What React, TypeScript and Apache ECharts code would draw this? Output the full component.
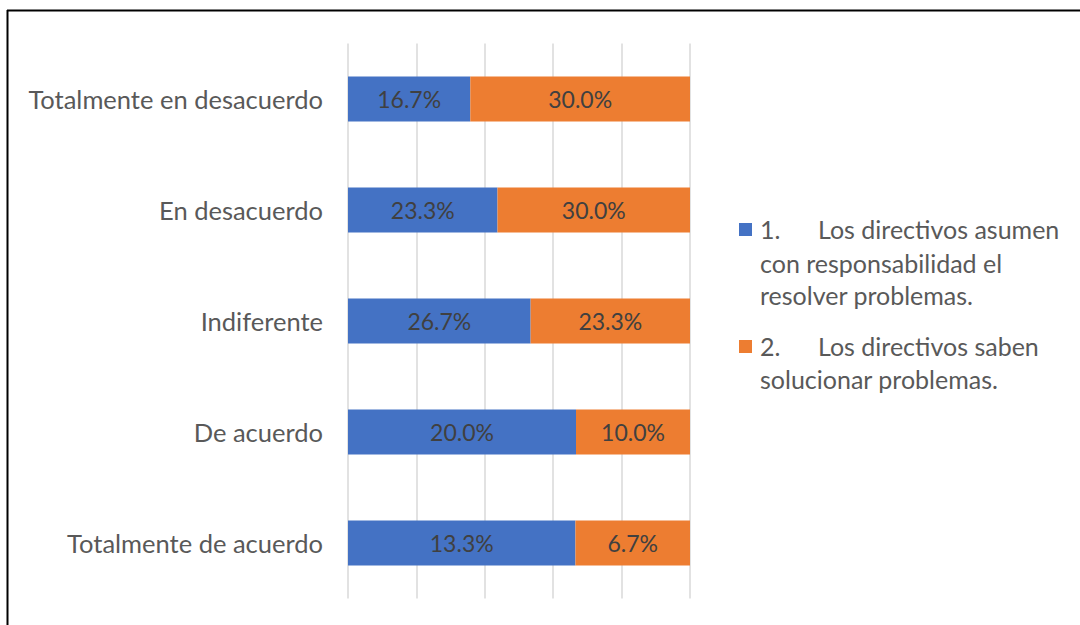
import React, { useEffect, useRef } from "react";
import * as echarts from "echarts";

const categories = [
  "Totalmente en desacuerdo",
  "En desacuerdo",
  "Indiferente",
  "De acuerdo",
  "Totalmente de acuerdo",
];
const series1Name = "1.\tLos directivos asumen con responsabilidad el resolver problemas.";
const series2Name = "2.\tLos directivos saben solucionar problemas.";
const series1Values = [16.7, 23.3, 26.7, 20.0, 13.3];
const series2Values = [30.0, 30.0, 23.3, 10.0, 6.7];

const BLUE = "#4472C4";
const ORANGE = "#ED7D31";
const FONT = "Lato";

export default function App() {
  const ref = useRef<HTMLDivElement>(null);
  useEffect(() => {
    document.body.style.margin = "0";
    if (!ref.current) return;
    const chart = echarts.init(ref.current, null, { renderer: "svg" });
    const totals = series1Values.map((v, i) => v + series2Values[i]);
    const share1 = series1Values.map((v, i) => (v / totals[i]) * 100);
    const share2 = series2Values.map((v, i) => (v / totals[i]) * 100);
    const labelStyle = (raw: number[]) => ({
      show: true,
      position: "inside" as const,
      color: "#404040",
      fontFamily: FONT,
      fontSize: 23,
      formatter: (p: any) => raw[p.dataIndex].toFixed(1) + "%",
    });
    const legendText = "#595959";
    const lf = `25px ${FONT}`;
    chart.setOption({
      animation: false,
      backgroundColor: "#ffffff",
      grid: { left: 348, right: 390, top: 43.5, bottom: 26.5, containLabel: false },
      xAxis: {
        type: "value",
        min: 0,
        max: 100,
        interval: 20,
        axisLabel: { show: false },
        axisLine: { show: false },
        axisTick: { show: false },
        splitLine: { show: true, lineStyle: { color: "#d9d9d9", width: 1.5 } },
      },
      yAxis: {
        type: "category",
        data: categories,
        inverse: true,
        axisLine: { show: false },
        axisTick: { show: false },
        axisLabel: { color: "#595959", fontFamily: FONT, fontSize: 25.5, margin: 25 },
      },
      series: [
        {
          name: series1Name,
          type: "bar",
          stack: "total",
          barWidth: 45,
          data: share1,
          itemStyle: { color: BLUE },
          label: labelStyle(series1Values),
        },
        {
          name: series2Name,
          type: "bar",
          stack: "total",
          barWidth: 45,
          data: share2,
          itemStyle: { color: ORANGE },
          label: labelStyle(series2Values),
        },
      ],
      graphic: [
        { type: "line", shape: { x1: 7, y1: 10.5, x2: 1080, y2: 10.5 }, style: { stroke: "#000", lineWidth: 2 } },
        { type: "line", shape: { x1: 7.5, y1: 10, x2: 7.5, y2: 625 }, style: { stroke: "#000", lineWidth: 2 } },
        { type: "rect", shape: { x: 739, y: 223, width: 13, height: 13 }, style: { fill: BLUE } },
        { type: "text", x: 760, y: 229, style: { text: "1.", fill: legendText, font: lf, verticalAlign: "middle" } },
        { type: "text", x: 818, y: 229, style: { text: "Los directivos asumen", fill: legendText, font: lf, verticalAlign: "middle" } },
        { type: "text", x: 760, y: 263, style: { text: "con responsabilidad el", fill: legendText, font: lf, verticalAlign: "middle" } },
        { type: "text", x: 760, y: 295, style: { text: "resolver problemas.", fill: legendText, font: lf, verticalAlign: "middle" } },
        { type: "rect", shape: { x: 739, y: 340, width: 13, height: 13 }, style: { fill: ORANGE } },
        { type: "text", x: 760, y: 346, style: { text: "2.", fill: legendText, font: lf, verticalAlign: "middle" } },
        { type: "text", x: 818, y: 346, style: { text: "Los directivos saben", fill: legendText, font: lf, verticalAlign: "middle" } },
        { type: "text", x: 760, y: 379, style: { text: "solucionar problemas.", fill: legendText, font: lf, verticalAlign: "middle" } },
      ],
    });
    return () => chart.dispose();
  }, []);
  return <div ref={ref} style={{ width: 1080, height: 625 }} />;
}
